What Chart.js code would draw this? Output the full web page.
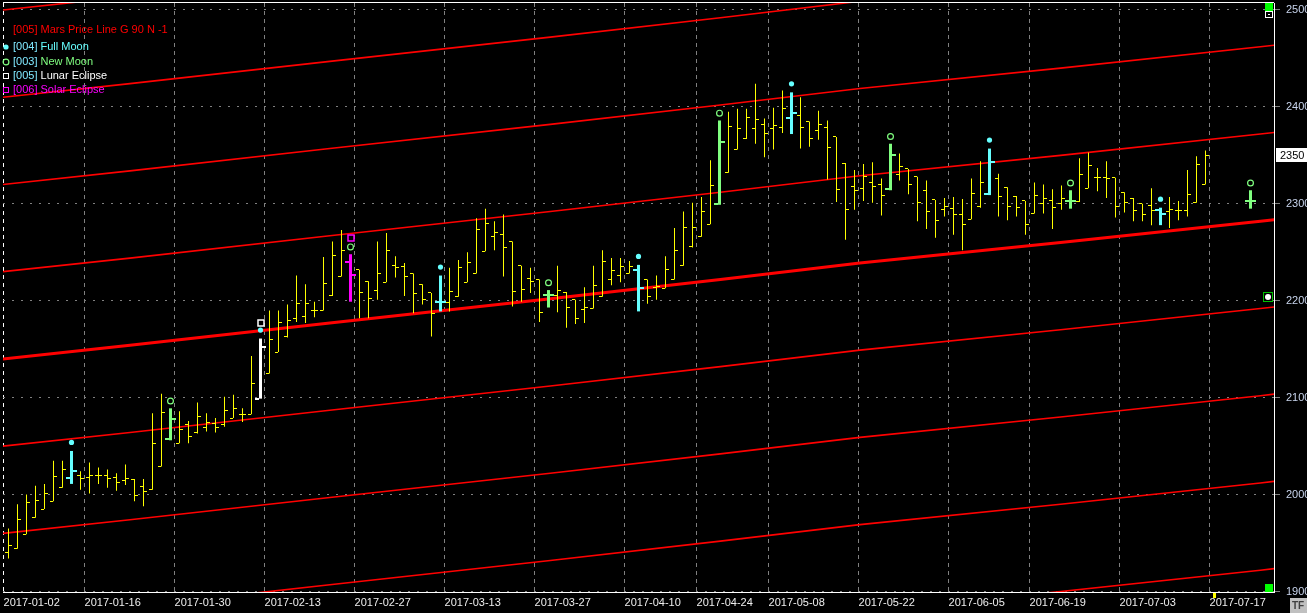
<!DOCTYPE html>
<html>
<head>
<meta charset="utf-8">
<title>Mars Price Lines</title>
<script src="https://cdn.jsdelivr.net/npm/chart.js@4.4.1/dist/chart.umd.min.js"></script>
<style>
html, body { margin:0; padding:0; background:#000; overflow:hidden; }
#c { display:block; }
</style>
</head>
<body>
<canvas id="c" width="1307" height="613"></canvas>
<script>
// ---------------- DATA ----------------
const dateLabels = ['2017-01-02','2017-01-16','2017-01-30','2017-02-13','2017-02-27','2017-03-13','2017-03-27','2017-04-10','2017-04-24','2017-05-08','2017-05-22','2017-06-05','2017-06-19','2017-07-03','2017-07-17'];
const dateLabelBars = [0,9,19,29,39,49,59,69,77,85,95,105,114,124,134];
const yTicks = [1900,2000,2100,2200,2300,2400,2500];

const opens = [1940,1944,1959,1976,1985,1993,2007,2017,2020,2018,2020,2020,2018,2015,2016,2008,2005,2029,2057,2053,
2072,2064,2069,2073,2072,2079,2083,2083,2099,2125,2147,2163,2182,2184,2190,2190,2205,2225,2240,2232,
2220,2211,2219,2236,2235,2228,2217,2208,2199,2198,2204,2219,2228,2251,2266,2268,2261,2236,2223,2222,
2206,2205,2208,2201,2191,2192,2204,2222,2226,2228,2232,2222,2214,2213,2222,2236,2256,2266,2279,2300,
2332,2356,2367,2378,2382,2378,2379,2389,2391,2385,2376,2379,2369,2342,2318,2316,2322,2320,2315,2330,
2336,2328,2314,2304,2294,2295,2289,2284,2297,2310,2326,2317,2308,2303,2290,2300,2303,2300,2303,2302,
2316,2327,2327,2327,2312,2306,2300,2298,2294,2292,2293,2293,2301,2320];
const highs = [1965,1990,2000,2009,2011,2035,2035,2045,2024,2033,2028,2026,2022,2031,2016,2016,2084,2104,2089,2086,
2076,2095,2084,2079,2101,2103,2089,2143,2161,2190,2190,2196,2226,2217,2199,2245,2261,2273,2248,2232,
2220,2261,2270,2246,2239,2228,2217,2208,2226,2234,2242,2250,2285,2295,2282,2289,2261,2236,2234,2222,
2211,2236,2209,2201,2214,2236,2252,2244,2244,2241,2237,2222,2226,2246,2275,2292,2301,2307,2345,2386,
2395,2398,2398,2424,2388,2399,2417,2415,2410,2385,2396,2386,2369,2342,2335,2341,2343,2326,2362,2352,
2336,2328,2324,2304,2306,2307,2305,2326,2344,2357,2331,2317,2308,2303,2322,2320,2315,2319,2314,2347,
2353,2337,2344,2327,2312,2306,2300,2316,2296,2307,2303,2335,2349,2355];
const lows = [1934,1944,1959,1976,1985,1993,2007,2011,2005,2001,2011,2007,2004,2010,1993,1988,2005,2029,2056,2053,
2053,2063,2065,2064,2070,2079,2075,2083,2099,2125,2147,2162,2178,2177,2183,2190,2205,2225,2199,2182,
2182,2201,2219,2224,2205,2187,2196,2163,2189,2189,2204,2219,2228,2251,2252,2225,2194,2199,2208,2178,
2193,2188,2172,2176,2177,2192,2204,2216,2219,2228,2189,2197,2201,2213,2222,2236,2255,2266,2279,2299,
2332,2356,2367,2362,2348,2356,2373,2372,2357,2359,2366,2325,2302,2263,2294,2303,2301,2288,2314,2324,
2310,2282,2274,2265,2287,2268,2252,2284,2296,2309,2287,2283,2287,2268,2290,2290,2274,2294,2295,2302,
2316,2313,2306,2286,2291,2282,2282,2278,2278,2275,2283,2287,2301,2320];
const closes = [1947,1974,1992,1994,2001,2019,2026,2024,2017,2020,2020,2017,2012,2017,1999,2003,2053,2085,2078,2067,
2060,2081,2074,2069,2087,2089,2083,2115,2152,2160,2178,2180,2197,2197,2190,2218,2247,2252,2227,2208,
2202,2228,2252,2234,2225,2207,2201,2187,2199,2210,2234,2239,2273,2280,2270,2255,2210,2212,2220,2188,
2206,2211,2193,2182,2193,2216,2240,2231,2235,2235,2213,2204,2215,2232,2252,2276,2276,2292,2319,2364,
2380,2378,2389,2387,2373,2381,2398,2394,2379,2367,2382,2358,2315,2294,2314,2328,2318,2309,2350,2339,
2320,2301,2292,2283,2297,2289,2279,2311,2322,2343,2308,2297,2296,2279,2309,2306,2296,2306,2303,2330,
2340,2327,2326,2297,2301,2293,2289,2293,2289,2294,2293,2310,2341,2350];

// moon / eclipse events (bar indices)
const fullMoonBars = [7,28,48,70,87,109,128];
const newMoonBars = [18,38,60,79,98,118];
const lunarEclipseBars = [28];
const solarEclipseBars = [38];
// projected new-moon bar in the future
const projBars = [138];
const projOpen = [2303], projHigh = [2314], projLow = [2295], projClose = [2303];
const currentBar = 134;

// Mars price line (base harmonic) read at a few bar positions
const marsIdx  = [-1, 13.5, 35.7, 60.2, 79.1, 94.6, 116.9, 139.1, 141];
const marsBase = [2139.6, 2154, 2177, 2202, 2222, 2239, 2260, 2282, 2284];
const marsStep = 90;
const marsHarmonics = [-4,-3,-2,-1,0,1,2,3,4];

// ---------------- STYLE ----------------
const COL = { bar:'#ffff00', full:'#66ffff', newm:'#80ff80', lunar:'#ffffff', solar:'#ff00ff', mars:'#ff0000',
  grid:'#808080', yLabel:'#c8d4ec', xLabel:'#eeeeee' };
const FONT = 'Arial, "Liberation Sans", sans-serif';

function eventColor(i) {
  if (lunarEclipseBars.includes(i)) return COL.lunar;
  if (solarEclipseBars.includes(i)) return COL.solar;
  if (fullMoonBars.includes(i)) return COL.full;
  if (newMoonBars.includes(i)) return COL.newm;
  return null;
}

const idx = opens.map((_, i) => i);
const normalIdx = idx.filter(i => !eventColor(i));
const eventIdx = idx.filter(i => eventColor(i));

const normalData = normalIdx.map(i => ({ x: i, y: [lows[i], highs[i]] }));
const eventData = eventIdx.map(i => ({ x: i, y: [lows[i], highs[i]] }))
  .concat(projBars.map((b, j) => ({ x: b, y: [projLow[j], projHigh[j]] })));
const eventColors = eventIdx.map(eventColor).concat(projBars.map(() => COL.newm));

const marsDatasets = marsHarmonics.map(k => ({
  type: 'line',
  label: 'Mars ' + k,
  data: marsIdx.map((x, j) => ({ x, y: marsBase[j] + k * marsStep })),
  borderColor: COL.mars,
  borderWidth: k === 0 ? 3 : 1.6,
  pointRadius: 0,
  tension: 0,
  order: 10
}));

// ---------------- PLUGINS ----------------
function drawMarker(ctx, type, cx, cy) {
  ctx.save();
  if (type === 'full') {
    ctx.fillStyle = COL.full;
    ctx.beginPath(); ctx.arc(cx, cy, 2.6, 0, Math.PI * 2); ctx.fill();
  } else if (type === 'new') {
    ctx.strokeStyle = COL.newm; ctx.lineWidth = 1.2;
    ctx.beginPath(); ctx.arc(cx, cy, 2.9, 0, Math.PI * 2); ctx.stroke();
  } else {
    ctx.strokeStyle = type === 'lunar' ? COL.lunar : COL.solar; ctx.lineWidth = 1.5;
    ctx.strokeRect(Math.round(cx) - 3, Math.round(cy) - 3, 6, 6);
  }
  ctx.restore();
}

const ohlcPlugin = {
  id: 'ohlcTicks',
  afterDatasetsDraw(chart) {
    const { ctx, chartArea: a, scales: { x, y } } = chart;
    ctx.save();
    ctx.beginPath(); ctx.rect(a.left, a.top, a.right - a.left, a.bottom - a.top); ctx.clip();
    const ticks = (i, o, c, col, ev) => {
      const cx = Math.floor(x.getPixelForValue(i));
      const yo = y.getPixelForValue(o), yc = y.getPixelForValue(c);
      ctx.fillStyle = col;
      if (ev) {
        ctx.fillRect(cx - 5, Math.round(yo) - 1, 4, 2);
        ctx.fillRect(cx + 2, Math.round(yc) - 1, 4, 2);
      } else {
        ctx.fillRect(cx - 3, Math.floor(yo), 3, 1);
        ctx.fillRect(cx + 1, Math.floor(yc), 3, 1);
      }
    };
    normalIdx.forEach(i => ticks(i, opens[i], closes[i], COL.bar, false));
    eventIdx.forEach(i => ticks(i, opens[i], closes[i], eventColor(i), true));
    projBars.forEach((b, j) => ticks(b, projOpen[j], projClose[j], COL.newm, true));

    const markers = (i, hi) => {
      const cx = Math.floor(x.getPixelForValue(i)) + 0.5;
      const hy = y.getPixelForValue(hi);
      if (fullMoonBars.includes(i)) drawMarker(ctx, 'full', cx, hy - 8.5);
      if (newMoonBars.includes(i) || projBars.includes(i)) drawMarker(ctx, 'new', cx, hy - 7.3);
      if (lunarEclipseBars.includes(i)) drawMarker(ctx, 'lunar', cx, hy - 16);
      if (solarEclipseBars.includes(i)) drawMarker(ctx, 'solar', cx, hy - 16);
    };
    idx.forEach(i => markers(i, highs[i]));
    projBars.forEach((b, j) => markers(b, projHigh[j]));
    ctx.restore();
  }
};

const decorPlugin = {
  id: 'decor',
  afterDraw(chart) {
    const { ctx, chartArea: a, scales: { x, y } } = chart;
    ctx.save();
    // top border
    ctx.fillStyle = '#ffffff';
    ctx.fillRect(a.left, a.top - 1, a.right - a.left, 1);

    // legend
    ctx.font = '11px ' + FONT;
    ctx.textBaseline = 'middle';
    const legend = [
      { tag: '[005]', text: ' Mars Price Line G 90 N -1', tc: COL.mars, c: COL.mars, m: null, y: 30 },
      { tag: '[004]', text: ' Full Moon', tc: '#80e8ff', c: COL.full, m: 'full', y: 47 },
      { tag: '[003]', text: ' New Moon', tc: '#80e8ff', c: COL.newm, m: 'new', y: 62 },
      { tag: '[005]', text: ' Lunar Eclipse', tc: '#80e8ff', c: COL.lunar, m: 'lunar', y: 76 },
      { tag: '[006]', text: ' Solar Eclipse', tc: COL.solar, c: COL.solar, m: 'solar', y: 90 }
    ];
    legend.forEach(it => {
      ctx.fillStyle = it.tc; ctx.fillText(it.tag, 13, it.y);
      const w = ctx.measureText(it.tag).width;
      ctx.fillStyle = it.c; ctx.fillText(it.text, 13 + w, it.y);
      if (it.m === 'full') drawMarker(ctx, 'full', 6, it.y);
      else if (it.m === 'new') drawMarker(ctx, 'new', 6, it.y);
      else if (it.m === 'lunar') { ctx.strokeStyle = COL.lunar; ctx.lineWidth = 1; ctx.strokeRect(3.5, it.y - 2.5, 5, 5); }
      else if (it.m === 'solar') { ctx.strokeStyle = COL.solar; ctx.lineWidth = 1; ctx.strokeRect(3.5, it.y - 2.5, 5, 5); }
    });

    // last price box
    const last = closes[closes.length - 1];
    const ly = Math.round(y.getPixelForValue(last));
    ctx.fillStyle = '#ffffff';
    ctx.fillRect(a.right + 2, ly - 7, 40, 14);
    ctx.fillStyle = '#000000';
    ctx.font = '11px ' + FONT;
    ctx.fillText(String(Math.round(last)), a.right + 6, ly + 0.5);

    // current bar marker on x axis
    const cb = Math.floor(x.getPixelForValue(currentBar));
    ctx.fillStyle = COL.bar;
    ctx.fillRect(cb - 1, a.bottom + 1, 3, 5);

    // right edge navigation marks
    ctx.fillStyle = '#00ff00';
    ctx.fillRect(a.right - 9, a.top, 8, 8);
    ctx.fillRect(a.right - 9, a.bottom - 8, 8, 8);
    ctx.fillStyle = '#000'; ctx.fillRect(a.right - 9, a.top + 8, 8, 7);
    ctx.strokeStyle = '#ffffff'; ctx.lineWidth = 1;
    ctx.strokeRect(a.right - 8.5, a.top + 8.5, 7, 6);
    ctx.fillStyle = '#ffffff'; ctx.fillRect(a.right - 6, a.top + 11, 2, 1);
    const cyv = Math.round(y.getPixelForValue(2200)) - 3;
    ctx.fillStyle = '#000'; ctx.fillRect(a.right - 10, cyv - 5, 9, 9);
    ctx.strokeStyle = '#00c000'; ctx.strokeRect(a.right - 10.5, cyv - 5.5, 9, 9);
    ctx.fillStyle = '#ffffff'; ctx.beginPath(); ctx.arc(a.right - 6, cyv - 1, 3, 0, Math.PI * 2); ctx.fill();

    // TF box
    ctx.fillStyle = '#c0c0c0';
    ctx.fillRect(1290, 598, 17, 15);
    ctx.fillStyle = '#404040';
    ctx.font = 'bold 10px ' + FONT;
    ctx.fillText('TF', 1292, 606);
    ctx.restore();
  }
};

// ---------------- CHART ----------------
new Chart(document.getElementById('c'), {
  type: 'bar',
  data: {
    datasets: [
      { label: 'Events', data: eventData, backgroundColor: eventColors, barThickness: 3, grouped: false, inflateAmount: 0, borderWidth: 0, order: 0 },
      { label: 'Price', data: normalData, backgroundColor: COL.bar, barThickness: 1, grouped: false, inflateAmount: 0, borderWidth: 0, order: 1 },
      ...marsDatasets
    ]
  },
  options: {
    responsive: false,
    animation: false,
    devicePixelRatio: 1,
    layout: { padding: { left: 3, top: 3, right: 0, bottom: 0 } },
    plugins: { legend: { display: false }, tooltip: { enabled: false } },
    scales: {
      x: {
        type: 'linear', position: 'bottom', bounds: 'data', min: -0.6111, max: 140.6111, offset: false,
        afterBuildTicks: s => { s.ticks = dateLabelBars.map(b => ({ value: b - 0.55 })); },
        afterFit: s => { s.height = 21; s.paddingLeft = 0; s.paddingRight = 0; },
        grid: { color: c => (c.index === 0 ? '#ffffff' : COL.grid), lineWidth: 1, drawTicks: false, offset: false },
        border: { display: true, color: '#ffffff', width: 1, dash: [4, 4] },
        ticks: { autoSkip: false, maxRotation: 0, minRotation: 0, align: 'start', padding: 4, color: COL.xLabel,
          font: { family: FONT, size: 11 }, callback: (v, i) => dateLabels[i] }
      },
      y: {
        type: 'linear', position: 'right', bounds: 'data', min: 1899.48, max: 2507.2,
        afterBuildTicks: s => { s.ticks = yTicks.map(v => ({ value: v })); },
        afterFit: s => { s.width = 33; s.paddingTop = 0; s.paddingBottom = 0; },
        grid: { color: COL.grid, lineWidth: 1, drawTicks: true, tickLength: 6, tickColor: COL.grid, tickBorderDash: [1, 0] },
        border: { display: true, color: '#ffffff', width: 1, dash: [2, 7] },
        ticks: { autoSkip: false, padding: 6, color: COL.yLabel, font: { family: FONT, size: 11 }, callback: v => String(v) }
      }
    }
  },
  plugins: [ohlcPlugin, decorPlugin]
});
</script>
</body>
</html>
